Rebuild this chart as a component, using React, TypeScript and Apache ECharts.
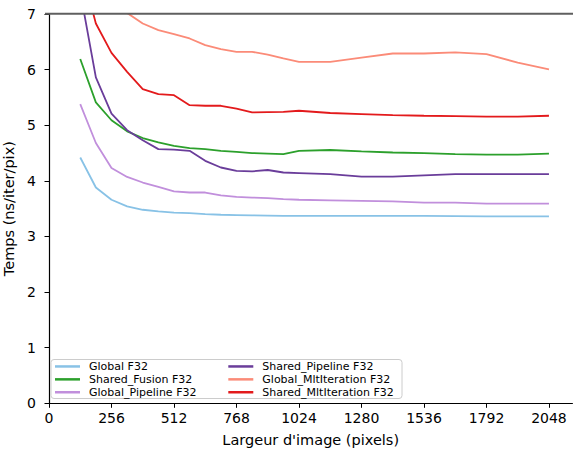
import React, { useEffect, useRef } from "react";
import * as echarts from "echarts";

const xValues = [128, 192, 256, 320, 384, 448, 512, 576, 640, 704, 768, 832, 896, 960, 1024, 1152, 1280, 1408, 1536, 1664, 1792, 1920, 2048];
const xTicks = [0, 256, 512, 768, 1024, 1280, 1536, 1792, 2048];

const seriesNames = [
  "Global F32",
  "Shared_Fusion F32",
  "Global_Pipeline F32",
  "Shared_Pipeline F32",
  "Global_MltIteration F32",
  "Shared_MltIteration F32",
];
const seriesColors = ["#88c2e6", "#2ca02c", "#c18fdc", "#6a3d9a", "#fb8b78", "#e31a1c"];

const globalF32 = [4.42, 3.88, 3.66, 3.54, 3.48, 3.45, 3.43, 3.42, 3.4, 3.39, 3.385, 3.38, 3.375, 3.37, 3.37, 3.37, 3.37, 3.37, 3.37, 3.365, 3.36, 3.36, 3.36];
const sharedFusion = [6.19, 5.41, 5.09, 4.89, 4.77, 4.69, 4.63, 4.59, 4.57, 4.54, 4.52, 4.5, 4.49, 4.48, 4.54, 4.555, 4.53, 4.51, 4.5, 4.48, 4.47, 4.47, 4.49];
const globalPipeline = [5.38, 4.68, 4.23, 4.07, 3.97, 3.89, 3.81, 3.79, 3.79, 3.74, 3.71, 3.7, 3.69, 3.67, 3.66, 3.65, 3.64, 3.63, 3.61, 3.61, 3.59, 3.59, 3.59];
const sharedPipeline = [7.4, 5.86, 5.21, 4.91, 4.73, 4.57, 4.56, 4.54, 4.36, 4.24, 4.18, 4.17, 4.195, 4.15, 4.14, 4.12, 4.075, 4.075, 4.1, 4.12, 4.12, 4.12, 4.12];
const globalMlt = [8.8, 7.9, 7.35, 7.02, 6.83, 6.71, 6.64, 6.56, 6.44, 6.37, 6.32, 6.32, 6.27, 6.2, 6.14, 6.14, 6.215, 6.29, 6.29, 6.31, 6.28, 6.125, 6.005];
const sharedMlt = [7.9, 6.83, 6.3, 5.96, 5.65, 5.56, 5.54, 5.36, 5.35, 5.35, 5.3, 5.23, 5.235, 5.24, 5.26, 5.22, 5.2, 5.18, 5.17, 5.165, 5.155, 5.155, 5.17];

const allSeries = [globalF32, sharedFusion, globalPipeline, sharedPipeline, globalMlt, sharedMlt];

const FONT = "DejaVu Sans";

export default function App() {
  const ref = useRef<HTMLDivElement>(null);
  useEffect(() => {
    if (!ref.current) return;
    const chart = echarts.init(ref.current, undefined, { renderer: "svg" });
    const legendCommon = {
      orient: "vertical" as const,
      padding: 0,
      itemGap: 0,
      itemWidth: 25,
      itemHeight: 2.5,
      icon: "rect",
      textStyle: { fontFamily: FONT, fontSize: 11, lineHeight: 12.9, color: "#000", padding: [0, 0, 0, 4] },
      selectedMode: false,
    };
    chart.setOption({
      animation: false,
      backgroundColor: "#fff",
      grid: { left: 49, top: 14, width: 523.4, height: 389.3, containLabel: false, outerBoundsMode: "none" },
      xAxis: {
        type: "value",
        min: 0,
        max: 2144,
        interval: 256,
        name: "Largeur d'image (pixels)",
        nameLocation: "middle",
        nameGap: 29,
        nameTextStyle: { fontFamily: FONT, fontSize: 14.5, color: "#000" },
        axisLine: { show: true, onZero: false, lineStyle: { color: "#000", width: 1.2 } },
        axisTick: { show: true, inside: false, length: 4.5, lineStyle: { color: "#000", width: 1 }, customValues: xTicks },
        axisLabel: {
          fontFamily: FONT,
          fontSize: 14,
          color: "#000",
          margin: 7.5,
          customValues: xTicks,
          formatter: (v: number) => String(v),
        },
        splitLine: { show: false },
      },
      yAxis: {
        type: "value",
        min: 0,
        max: 7,
        interval: 1,
        name: "Temps (ns/iter/pix)",
        nameLocation: "middle",
        nameGap: 26,
        nameTextStyle: { fontFamily: FONT, fontSize: 14.5, color: "#000" },
        axisLine: { show: true, onZero: false, lineStyle: { color: "#000", width: 1.2 } },
        axisTick: { show: true, inside: false, length: 4.5, lineStyle: { color: "#000", width: 1 } },
        axisLabel: { fontFamily: FONT, fontSize: 14, color: "#000", margin: 13, formatter: (v: number) => String(v) },
        splitLine: { show: false },
      },
      legend: [
        { ...legendCommon, left: 55, top: 360, data: seriesNames.slice(0, 3) },
        { ...legendCommon, left: 228.3, top: 360, data: seriesNames.slice(3, 6) },
      ],
      graphic: [
        {
          type: "rect",
          z: 3,
          shape: { x: 51, y: 359.5, width: 351, height: 39, r: 3 },
          style: { fill: "rgba(255,255,255,0.8)", stroke: "#cccccc", lineWidth: 1 },
        },
        {
          type: "line",
          z: 10,
          shape: { x1: 45, y1: 13.8, x2: 573, y2: 13.8 },
          style: { stroke: "#5f5f5f", lineWidth: 2 },
        },
      ],
      series: allSeries.map((vals, i) => ({
        type: "line",
        name: seriesNames[i],
        data: xValues.map((x, j) => [x, vals[j]]),
        showSymbol: false,
        symbol: "none",
        clip: true,
        color: seriesColors[i],
        lineStyle: { color: seriesColors[i], width: 1.8 },
        z: 2,
      })),
    });
    return () => chart.dispose();
  }, []);
  return (
    <div
      ref={ref}
      style={{ position: "absolute", left: 0, top: 0, width: 573, height: 450 }}
    />
  );
}
